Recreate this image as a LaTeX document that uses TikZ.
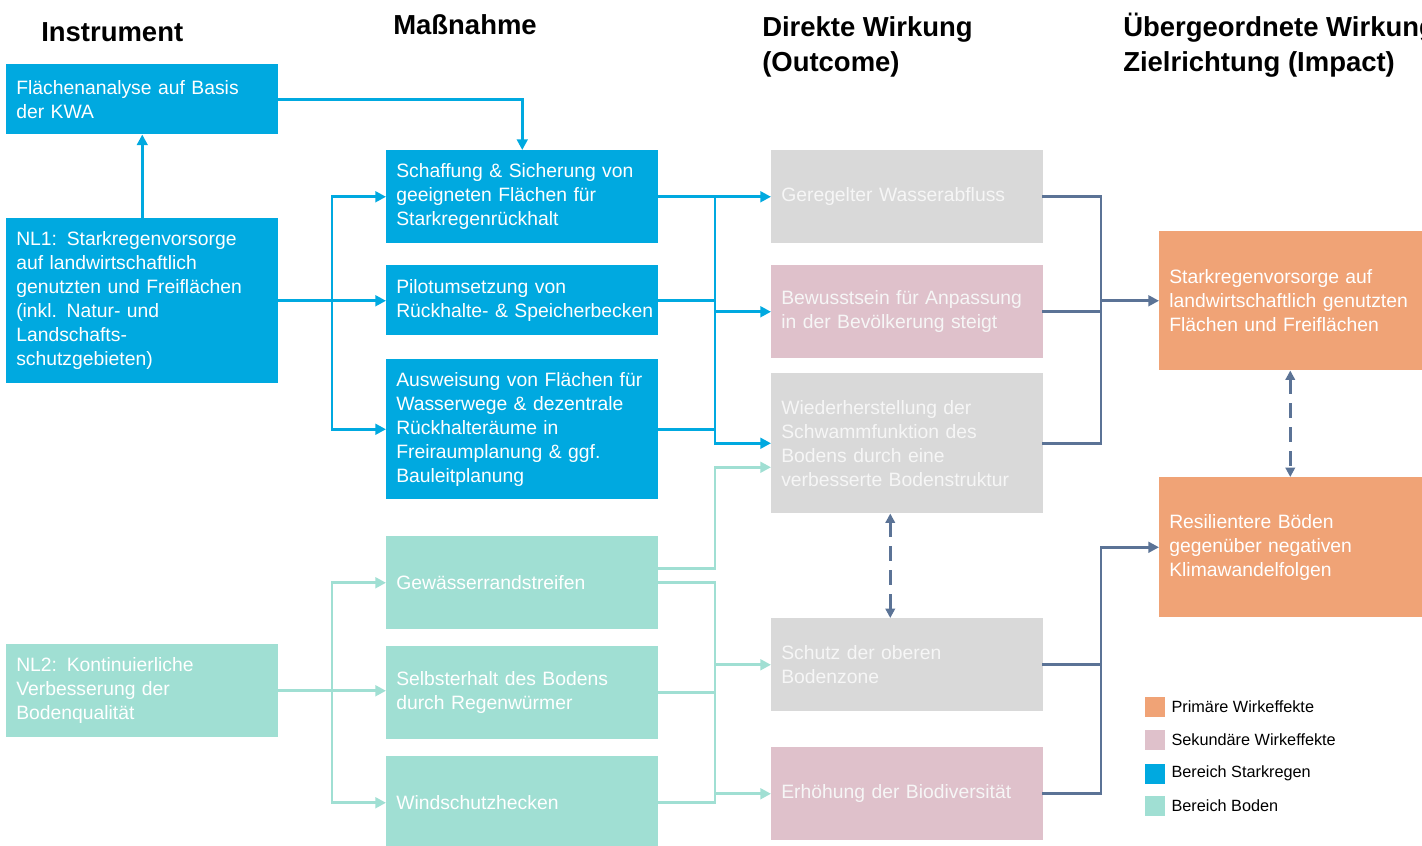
\documentclass[tikz,border=0pt]{standalone}
\usepackage{fontspec}
\setmainfont{Liberation Sans}
\usetikzlibrary{positioning, arrows.meta}
\definecolor{regen}{RGB}{0,169,224}
\definecolor{boden}{RGB}{160,223,211}
\definecolor{grau}{RGB}{217,217,217}
\definecolor{sekundaer}{RGB}{223,193,203}
\definecolor{primaer}{RGB}{240,163,118}
\definecolor{schiefer}{RGB}{91,115,150}
\definecolor{hell}{RGB}{246,246,246}

\begin{document}
\begin{tikzpicture}[x=0.75pt, y=-0.75pt,
  box/.style={anchor=north west, minimum width=204pt, inner xsep=7.5pt, inner ysep=0pt, text width=189pt, align=left, font=\fontsize{14.5}{18}\selectfont, text=white},
  kopf/.style={anchor=base west, inner sep=0pt, align=left, font=\fontsize{20.6}{26.25}\selectfont\bfseries},
  linie/.style={line width=2.2pt, line cap=rect},
  pfeil/.style={linie, -{Triangle[length=8pt, width=8pt]}},
  strich/.style={draw=schiefer, line width=2.2pt, dash pattern=on 11pt off 7pt, {Triangle[length=7pt, width=7pt]}-{Triangle[length=7pt, width=7pt]}},
  legkasten/.style={minimum size=15pt, inner sep=0pt},
  legtext/.style={inner sep=0pt, font=\fontsize{12.2}{14}\selectfont}
]
\useasboundingbox (0,0) rectangle (1422,846);
\clip (0,0) rectangle (1422,846);

\node[kopf] (h1) at (41,41) {Instrument};
\node[kopf] (h2) at (393,35) {Maßnahme};
\node[kopf] (h3) at (762,71) {Direkte Wirkung\\(Outcome)};
\node[kopf] (h4) at (1123,71) {Übergeordnete Wirkung\\Zielrichtung (Impact)};

\node[box, fill=regen, minimum height=52.5pt] (ana) at (6,64) {Flächenanalyse auf Basis\\der KWA};
\node[box, fill=regen, minimum height=123.75pt] (nl1) at (6,218) {NL1: Starkregenvorsorge\\auf landwirtschaftlich\\genutzten und Freiflächen\\(inkl. Natur- und\\Landschafts-\\schutzgebieten)};
\node[box, fill=boden, minimum height=69.75pt] (nl2) at (6,644) {NL2: Kontinuierliche\\Verbesserung der\\Bodenqualität};

\node[box, fill=regen, minimum height=69.75pt] (m1) at (386,150) {\mbox{Schaffung \& Sicherung von}\\geeigneten Flächen für\\Starkregenrückhalt};
\node[box, fill=regen, minimum height=52.5pt] (m2) at (386,265) {Pilotumsetzung von\\\mbox{Rückhalte- \& Speicherbecken}};
\node[box, fill=regen, minimum height=105pt] (m3) at (386,359) {\mbox{Ausweisung von Flächen für}\\Wasserwege \& dezentrale\\Rückhalteräume in\\Freiraumplanung \& ggf.\\Bauleitplanung};
\node[box, fill=boden, minimum height=69.75pt] (m4) at (386,536) {Gewässerrandstreifen};
\node[box, fill=boden, minimum height=69.75pt] (m5) at (386,646) {Selbsterhalt des Bodens\\durch Regenwürmer};
\node[box, fill=boden, minimum height=69.75pt] (m6) at (386,756) {Windschutzhecken};

\node[box, fill=grau, text=hell, minimum height=69.75pt] (o1) at (771,150) {Geregelter Wasserabfluss};
\node[box, fill=sekundaer, text=hell, minimum height=69.75pt] (o2) at (771,265) {\mbox{Bewusstsein für Anpassung}\\in der Bevölkerung steigt};
\node[box, fill=grau, text=hell, minimum height=105pt] (o3) at (771,373) {Wiederherstellung der\\Schwammfunktion des\\Bodens durch eine\\\mbox{verbesserte Bodenstruktur}};
\node[box, fill=grau, text=hell, minimum height=69.75pt] (o4) at (771,618) {Schutz der oberen\\Bodenzone};
\node[box, fill=sekundaer, text=hell, minimum height=69.75pt] (o5) at (771,747) {Erhöhung der Biodiversität};

\node[box, fill=primaer, minimum height=104.25pt] (i1) at (1159,231) {Starkregenvorsorge auf\\\mbox{landwirtschaftlich genutzten}\\Flächen und Freiflächen};
\node[box, fill=primaer, minimum height=105pt] (i2) at (1159,477) {Resilientere Böden\\gegenüber negativen\\Klimawandelfolgen};

\coordinate (busa) at (332,0);
\coordinate (busb) at (715,0);
\coordinate (busc) at (1101,0);

\draw[pfeil, regen] (nl1.north) -- (ana.south);
\draw[pfeil, regen] (ana.east) -| (m1.north);
\draw[pfeil, regen] (nl1.east) -- (nl1.east -| busa) |- (m1.west);
\draw[pfeil, regen] (nl1.east) -- (nl1.east -| m2.west);
\draw[pfeil, regen] (nl1.east -| busa) |- (m3.west);
\draw[pfeil, regen] (m1.east) -- (o1.west);
\draw[linie, regen] (m2.east) -- (m2.east -| busb);
\draw[linie, regen] (m3.east) -- (m3.east -| busb);
\draw[linie, regen] (m1.east -| busb) -- (o3.west -| busb);
\draw[pfeil, regen] (o2.west -| busb) -- (o2.west);
\draw[pfeil, regen] (o3.west -| busb) -- (o3.west);

\draw[pfeil, boden] (nl2.east) -- (nl2.east -| busa) |- (m4.west);
\draw[pfeil, boden] (nl2.east) -- (nl2.east -| m5.west);
\draw[pfeil, boden] (nl2.east -| busa) |- (m6.west);
\draw[pfeil, boden] ([yshift=10.5pt]m4.east) -- ([yshift=10.5pt]m4.east -| busb) |- ([yshift=-18pt]o3.west);
\draw[pfeil, boden] (m4.east) -- (m4.east -| busb) |- (o4.west);
\draw[linie, boden] (m5.east) -- (m5.east -| busb);
\draw[pfeil, boden] (m6.east) -- (m6.east -| busb) |- (o5.west);
\draw[linie, boden] (o4.west -| busb) -- (o5.west -| busb);

\draw[linie, schiefer] (o1.east) -- (o1.east -| busc) -- (o3.east -| busc) -- (o3.east);
\draw[linie, schiefer] (o2.east) -- (o2.east -| busc);
\draw[pfeil, schiefer] (i1.west -| busc) -- (i1.west);
\draw[linie, schiefer] (o4.east) -- (o4.east -| busc);
\draw[pfeil, schiefer] (o5.east) -- (o5.east -| busc) |- (i2.west);

\draw[strich] ([xshift=-12.75pt]o3.south) -- ([xshift=-12.75pt]o4.north);
\draw[strich] ([xshift=-3.75pt]i1.south) -- ([xshift=-3.75pt]i2.north);

\node[legkasten, fill=primaer] (lg1) at (1155,706.5) {};
\node[legkasten, fill=sekundaer, below=9.75pt of lg1] (lg2) {};
\node[legkasten, fill=regen, below=9.75pt of lg2] (lg3) {};
\node[legkasten, fill=boden, below=9pt of lg3] (lg4) {};
\node[legtext, right=4.5pt of lg1] (lt1) {Primäre Wirkeffekte};
\node[legtext, right=4.5pt of lg2] (lt2) {Sekundäre Wirkeffekte};
\node[legtext, right=4.5pt of lg3] (lt3) {Bereich Starkregen};
\node[legtext, right=4.5pt of lg4] (lt4) {Bereich Boden};
\end{tikzpicture}
\end{document}
